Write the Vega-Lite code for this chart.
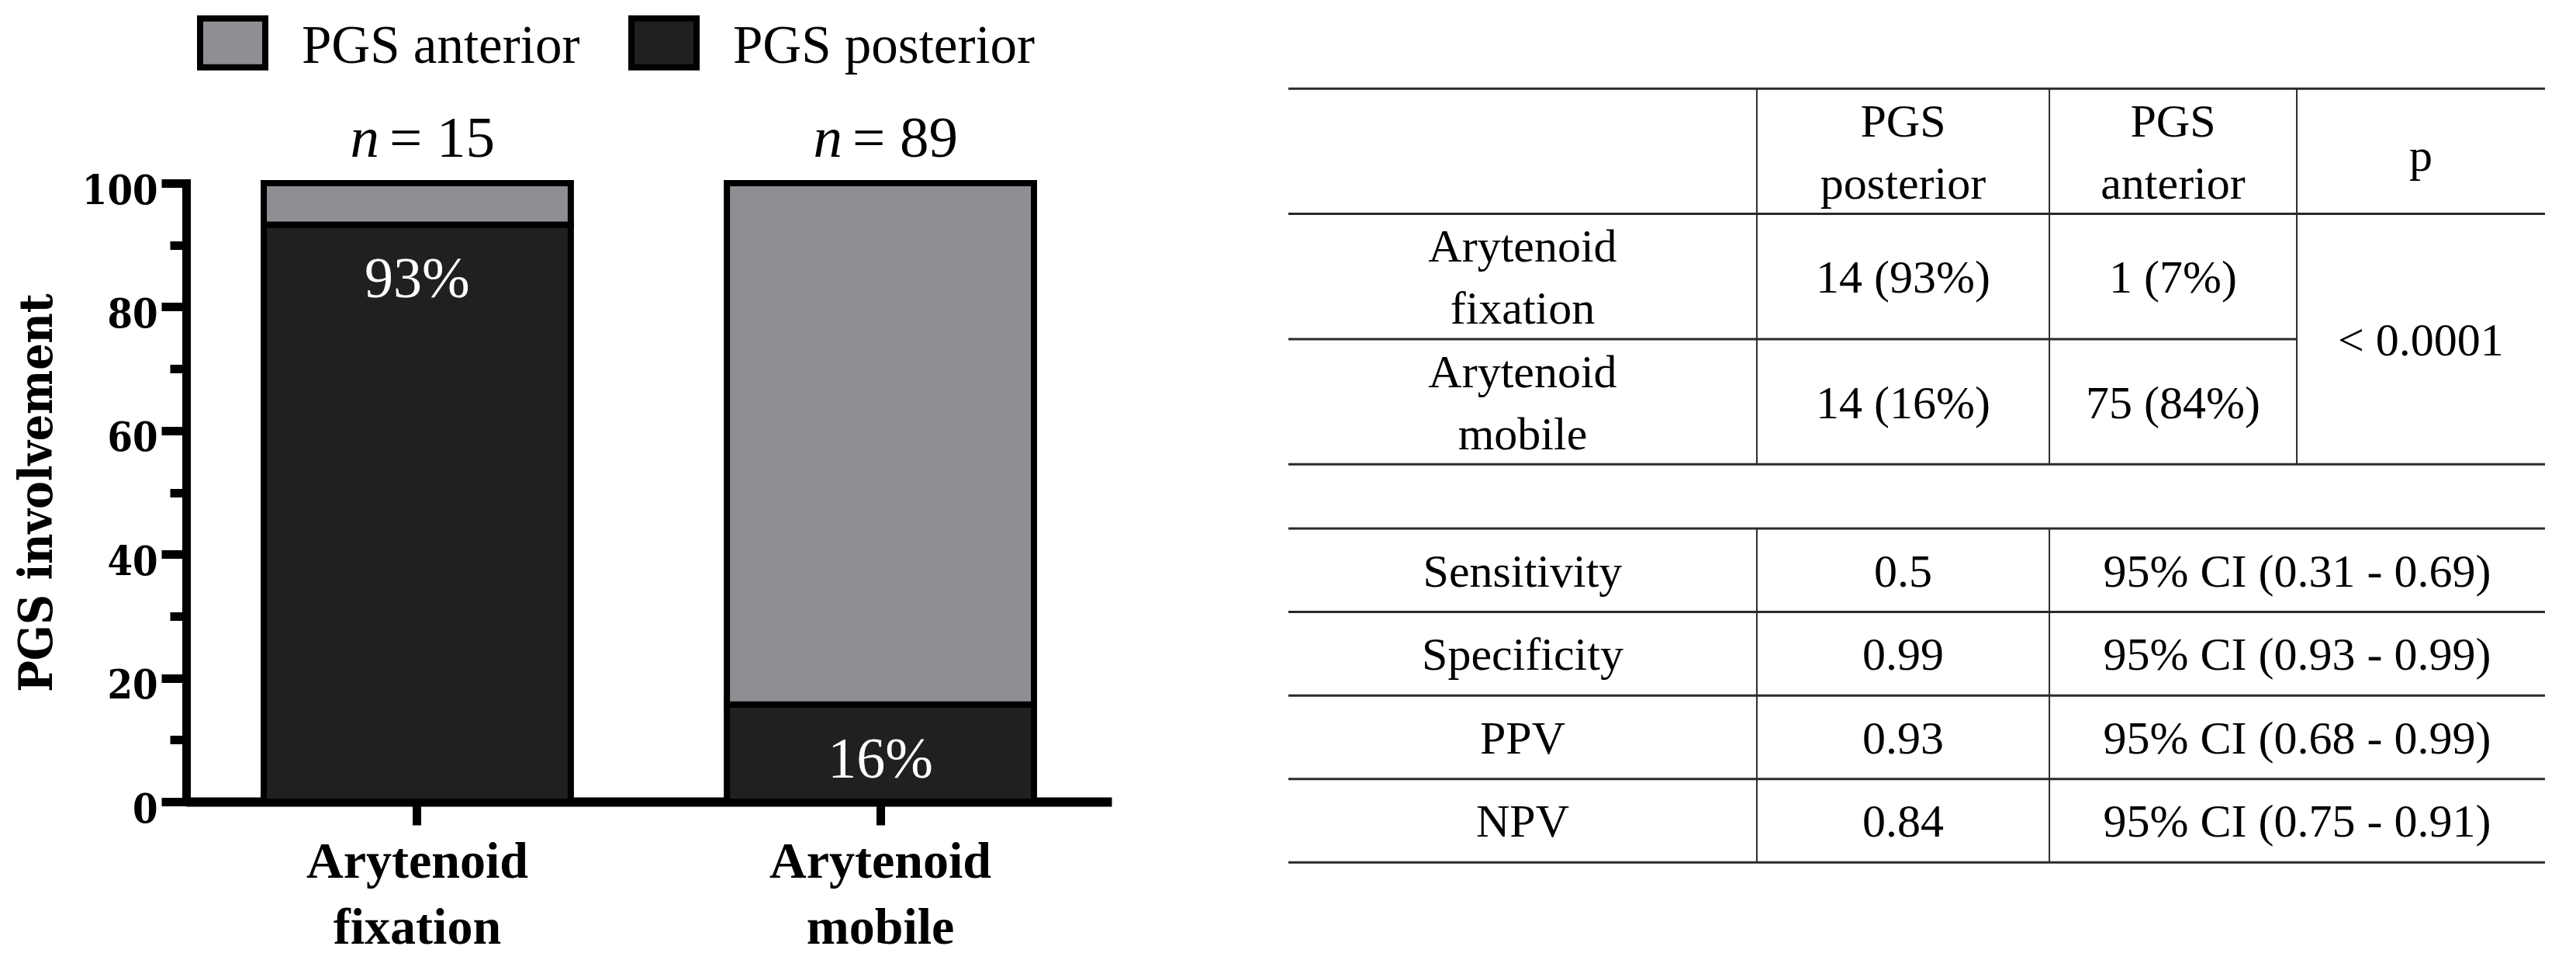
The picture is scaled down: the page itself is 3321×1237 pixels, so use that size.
{
  "$schema": "https://vega.github.io/schema/vega-lite/v6.json",
  "background": "white",
  "padding": {"left": 18, "top": 14, "right": 0, "bottom": 0},
  "spacing": 226,
  "config": {"view": {"stroke": null}},
  "datasets": {
    "bars": [
      {"group": "Arytenoid fixation", "segment": "PGS posterior", "percent": 93.3, "n": 15, "label": "93%"},
      {"group": "Arytenoid fixation", "segment": "PGS anterior", "percent": 6.7, "n": 15, "label": ""},
      {"group": "Arytenoid mobile", "segment": "PGS posterior", "percent": 15.7, "n": 89, "label": "16%"},
      {"group": "Arytenoid mobile", "segment": "PGS anterior", "percent": 84.3, "n": 89, "label": ""}
    ],
    "cells": [
      {"text": "PGS\nposterior", "col": 48.92, "row": 0.75},
      {"text": "PGS\nanterior", "col": 70.4, "row": 0.75},
      {"text": "p", "col": 90.12, "row": 0.75},
      {"text": "Arytenoid\nfixation", "col": 18.64, "row": 2.25},
      {"text": "14 (93%)", "col": 48.92, "row": 2.25},
      {"text": "1 (7%)", "col": 70.4, "row": 2.25},
      {"text": "Arytenoid\nmobile", "col": 18.64, "row": 3.75},
      {"text": "14 (16%)", "col": 48.92, "row": 3.75},
      {"text": "75 (84%)", "col": 70.4, "row": 3.75},
      {"text": "< 0.0001", "col": 90.12, "row": 3.0},
      {"text": "Sensitivity", "col": 18.64, "row": 5.77},
      {"text": "0.5", "col": 48.92, "row": 5.77},
      {"text": "95% CI (0.31 - 0.69)", "col": 80.28, "row": 5.77},
      {"text": "Specificity", "col": 18.64, "row": 6.77},
      {"text": "0.99", "col": 48.92, "row": 6.77},
      {"text": "95% CI (0.93 - 0.99)", "col": 80.28, "row": 6.77},
      {"text": "PPV", "col": 18.64, "row": 7.77},
      {"text": "0.93", "col": 48.92, "row": 7.77},
      {"text": "95% CI (0.68 - 0.99)", "col": 80.28, "row": 7.77},
      {"text": "NPV", "col": 18.64, "row": 8.77},
      {"text": "0.84", "col": 48.92, "row": 8.77},
      {"text": "95% CI (0.75 - 0.91)", "col": 80.28, "row": 8.77}
    ],
    "hrules": [
      {"x": 0, "x2": 100, "y": 0},
      {"x": 0, "x2": 100, "y": 1.5},
      {"x": 0, "x2": 80.25, "y": 3.0},
      {"x": 0, "x2": 100, "y": 4.5},
      {"x": 0, "x2": 100, "y": 5.27},
      {"x": 0, "x2": 100, "y": 6.27},
      {"x": 0, "x2": 100, "y": 7.27},
      {"x": 0, "x2": 100, "y": 8.27},
      {"x": 0, "x2": 100, "y": 9.27}
    ],
    "vrules": [
      {"x": 37.28, "y": 0, "y2": 4.5},
      {"x": 60.56, "y": 0, "y2": 4.5},
      {"x": 80.25, "y": 0, "y2": 4.5},
      {"x": 37.28, "y": 5.27, "y2": 9.27},
      {"x": 60.56, "y": 5.27, "y2": 9.27}
    ]
  },
  "hconcat": [
    {
      "width": 1193,
      "height": 797,
      "data": {"name": "bars"},
      "encoding": {
        "x": {
          "field": "group", "type": "nominal",
          "sort": ["Arytenoid fixation", "Arytenoid mobile"],
          "scale": {"paddingInner": 0.337, "paddingOuter": 0.1675},
          "axis": {
            "title": null, "labelAngle": 0,
            "labelExpr": "split(datum.label, ' ')",
            "labelFont": "Liberation Serif", "labelFontWeight": "bold", "labelFontSize": 66,
            "labelLineHeight": 85, "labelPadding": 15, "labelColor": "black",
            "labelLimit": 0, "labelOverlap": false,
            "tickSize": 30, "tickWidth": 11, "tickColor": "black",
            "domainWidth": 12, "domainColor": "black", "grid": false
          }
        }
      },
      "layer": [
        {
          "mark": {"type": "bar", "stroke": "black", "strokeWidth": 8},
          "encoding": {
            "y": {
              "field": "percent", "type": "quantitative", "stack": "zero",
              "scale": {"domain": [0, 100], "nice": false},
              "axis": {
                "title": "PGS involvement",
                "values": [0, 10, 20, 30, 40, 50, 60, 70, 80, 90, 100],
                "labelExpr": "datum.value % 20 === 0 ? datum.label : ''",
                "tickSize": {"condition": {"test": "datum.value % 20 === 0", "value": 32}, "value": 21},
                "tickWidth": 11, "tickColor": "black",
                "domainWidth": 11, "domainColor": "black", "domainCap": "square",
                "labelFont": "DejaVu Serif Condensed, DejaVu Serif", "labelFontWeight": "bold", "labelFontSize": 52,
                "labelColor": "black", "labelPadding": 5, "labelOffset": 10,
                "titleFont": "DejaVu Serif Condensed, DejaVu Serif", "titleFontWeight": "bold", "titleFontSize": 60,
                "titleColor": "black", "titlePadding": 26, "grid": false
              }
            },
            "color": {
              "field": "segment", "type": "nominal",
              "scale": {"domain": ["PGS anterior", "PGS posterior"], "range": ["#8f8e93", "#202020"]},
              "legend": {
                "orient": "none", "legendX": 14, "legendY": -222, "direction": "horizontal",
                "title": null, "padding": 0,
                "symbolType": "M-1,-0.87L1,-0.87L1,0.63L-1,0.63Z", "symbolSize": 7056,
                "symbolStrokeColor": "black", "symbolStrokeWidth": 8, "symbolOpacity": 1,
                "labelFont": "Liberation Serif", "labelFontSize": 69, "labelColor": "black",
                "labelBaseline": "middle", "labelOffset": 43, "columnPadding": 50, "labelLimit": 0,
                "encode": {"symbols": {"update": {"stroke": {"value": "black"}, "strokeWidth": {"value": 8}}}}
              }
            },
            "order": {"field": "segment", "sort": "descending"}
          }
        },
        {
          "transform": [{"filter": "datum.label !== ''"}],
          "mark": {"type": "text", "color": "white", "font": "Liberation Serif", "fontSize": 74, "baseline": "alphabetic", "dy": 94},
          "encoding": {
            "y": {"field": "percent", "type": "quantitative", "stack": null},
            "text": {"field": "label", "type": "nominal"}
          }
        },
        {
          "transform": [{"filter": "datum.segment === 'PGS posterior'"}],
          "mark": {"type": "text", "color": "black", "font": "Liberation Serif", "fontStyle": "italic", "fontSize": 75, "baseline": "alphabetic", "align": "right", "dx": -49, "dy": -34},
          "encoding": {
            "y": {"datum": 100},
            "text": {"value": "n"}
          }
        },
        {
          "transform": [
            {"filter": "datum.segment === 'PGS posterior'"},
            {"calculate": "'= ' + datum.n", "as": "n_text"}
          ],
          "mark": {"type": "text", "color": "black", "font": "Liberation Serif", "fontSize": 75, "baseline": "alphabetic", "align": "left", "dx": -36, "dy": -34},
          "encoding": {
            "y": {"datum": 100},
            "text": {"field": "n_text", "type": "nominal"}
          }
        }
      ]
    },
    {
      "width": 1620,
      "height": 900,
      "layer": [
        {
          "data": {"name": "hrules"},
          "mark": {"type": "rule", "color": "#2a2a2a", "strokeWidth": 3},
          "encoding": {
            "x": {"field": "x", "type": "quantitative", "scale": {"domain": [0, 100], "nice": false}, "axis": null},
            "x2": {"field": "x2"},
            "y": {"field": "y", "type": "quantitative", "scale": {"domain": [1.132, 9.5], "nice": false, "reverse": true}, "axis": null}
          }
        },
        {
          "data": {"name": "vrules"},
          "mark": {"type": "rule", "color": "#2a2a2a", "strokeWidth": 2},
          "encoding": {
            "x": {"field": "x", "type": "quantitative", "scale": {"domain": [0, 100], "nice": false}, "axis": null},
            "y": {"field": "y", "type": "quantitative", "scale": {"domain": [1.132, 9.5], "nice": false, "reverse": true}, "axis": null},
            "y2": {"field": "y2"}
          }
        },
        {
          "data": {"name": "cells"},
          "transform": [{"filter": "indexof(datum.text, '\\n') < 0 && datum.text !== 'p'"}],
          "mark": {"type": "text", "color": "black", "font": "Liberation Serif", "fontSize": 60, "baseline": "middle", "align": "center", "dy": 3},
          "encoding": {
            "x": {"field": "col", "type": "quantitative", "scale": {"domain": [0, 100], "nice": false}, "axis": null},
            "y": {"field": "row", "type": "quantitative", "scale": {"domain": [1.132, 9.5], "nice": false, "reverse": true}, "axis": null},
            "text": {"field": "text", "type": "nominal"}
          }
        },
        {
          "data": {"name": "cells"},
          "transform": [{"filter": "datum.text === 'p'"}],
          "mark": {"type": "text", "color": "black", "font": "Liberation Serif", "fontSize": 60, "baseline": "middle", "align": "center", "dy": 7},
          "encoding": {
            "x": {"field": "col", "type": "quantitative", "scale": {"domain": [0, 100], "nice": false}, "axis": null},
            "y": {"field": "row", "type": "quantitative", "scale": {"domain": [1.132, 9.5], "nice": false, "reverse": true}, "axis": null},
            "text": {"field": "text", "type": "nominal"}
          }
        },
        {
          "data": {"name": "cells"},
          "transform": [{"filter": "indexof(datum.text, '\\n') >= 0"}],
          "mark": {"type": "text", "color": "black", "font": "Liberation Serif", "fontSize": 60, "baseline": "middle", "align": "center", "lineBreak": "\n", "lineHeight": 80, "dy": -37},
          "encoding": {
            "x": {"field": "col", "type": "quantitative", "scale": {"domain": [0, 100], "nice": false}, "axis": null},
            "y": {"field": "row", "type": "quantitative", "scale": {"domain": [1.132, 9.5], "nice": false, "reverse": true}, "axis": null},
            "text": {"field": "text", "type": "nominal"}
          }
        }
      ]
    }
  ]
}
